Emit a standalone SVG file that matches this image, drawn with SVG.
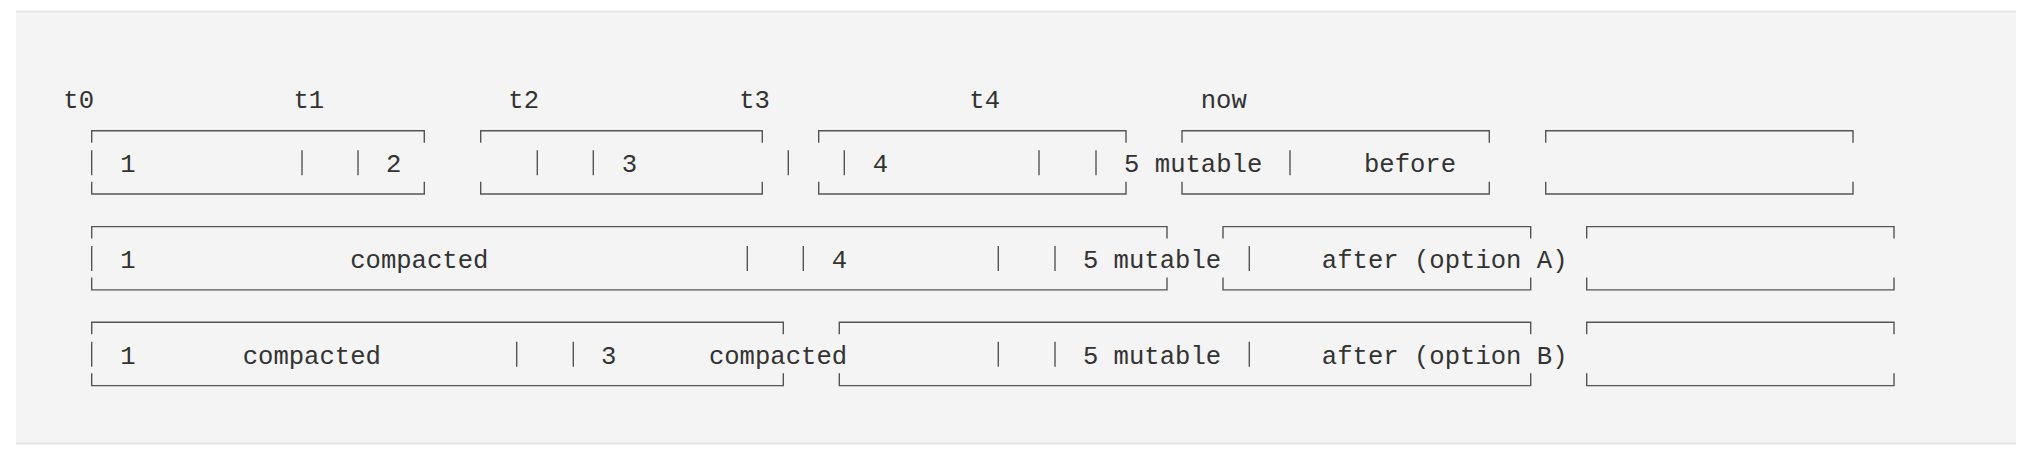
<svg xmlns="http://www.w3.org/2000/svg" width="2034" height="464" viewBox="0 0 2034 464">
  <style>
    .bg { fill: #f4f4f4; }
    .edge { stroke: #e6e6e6; stroke-width: 2; fill: none; }
    .b { fill: none; stroke: #555555; stroke-width: 1.4; }
    .t { font-family: "Liberation Mono", "DejaVu Sans Mono", monospace; font-size: 25.6px; fill: #333333; text-anchor: middle; }
  </style>
  <rect x="0" y="0" width="2034" height="464" fill="#ffffff"/>
  <rect class="bg" x="16" y="10.5" width="2000" height="434"/>
  <path class="edge" d="M16 11.5 H2016 M16 443.5 H2016"/>

  <g id="time-labels">
    <text class="t" x="78.7" y="108.3">t0</text>
    <text class="t" x="308.8" y="108.3">t1</text>
    <text class="t" x="523.7" y="108.3">t2</text>
    <text class="t" x="754.5" y="108.3">t3</text>
    <text class="t" x="984.7" y="108.3">t4</text>
    <text class="t" x="1223.8" y="108.3">now</text>
  </g>

  <!-- Row 1: before -->
  <g id="row-before">
    <g id="box-1-2"><path class="b" d="M91.7 142.7 V130.7 H424.3 V142.7 M91.7 181.7 V194 H424.3 V181.7"/></g>
    <g id="box-3"><path class="b" d="M480.7 142.7 V130.7 H762.3 V142.7 M480.7 181.7 V194 H762.3 V181.7"/></g>
    <g id="box-4"><path class="b" d="M818.7 142.7 V130.7 H1126 V142.7 M818.7 181.7 V194 H1126 V181.7"/></g>
    <g id="box-before"><path class="b" d="M1182 142.7 V130.7 H1489.3 V142.7 M1182 181.7 V194 H1489.3 V181.7"/></g>
    <g id="box-empty-1"><path class="b" d="M1545.7 142.7 V130.7 H1853 V142.7 M1545.7 181.7 V194 H1853 V181.7"/></g>
    <g id="row-before-labels">
      <text class="t" x="128" y="172.3">1</text>
      <text class="t" x="393.7" y="172.3">2</text>
      <text class="t" x="629.5" y="172.3">3</text>
      <text class="t" x="880.5" y="172.3">4</text>
      <text class="t" x="1193.2" y="172.3">5 mutable</text>
      <text class="t" x="1410" y="172.3">before</text>
    </g>
  </g>

  <!-- Row 2: after (option A) -->
  <g id="row-option-a">
    <g id="box-a-main"><path class="b" d="M91.7 238.6 V226.6 H1167 V238.6 M91.7 277.6 V289.9 H1167 V277.6"/></g>
    <g id="box-a-after"><path class="b" d="M1223 238.6 V226.6 H1530.7 V238.6 M1223 277.6 V289.9 H1530.7 V277.6"/></g>
    <g id="box-a-empty"><path class="b" d="M1586.7 238.6 V226.6 H1894 V238.6 M1586.7 277.6 V289.9 H1894 V277.6"/></g>
    <g id="row-option-a-labels">
      <text class="t" x="128" y="267.9">1</text>
      <text class="t" x="419.3" y="267.9">compacted</text>
      <text class="t" x="839.5" y="267.9">4</text>
      <text class="t" x="1152" y="267.9">5 mutable</text>
      <text class="t" x="1444.7" y="267.9">after (option A)</text>
    </g>
  </g>

  <!-- Row 3: after (option B) -->
  <g id="row-option-b">
    <g id="box-b-first"><path class="b" d="M91.7 334.3 V322.3 H783.3 V334.3 M91.7 373.3 V385.6 H783.3 V373.3"/></g>
    <g id="box-b-second"><path class="b" d="M839.3 334.3 V322.3 H1530.7 V334.3 M839.3 373.3 V385.6 H1530.7 V373.3"/></g>
    <g id="box-b-empty"><path class="b" d="M1586.7 334.3 V322.3 H1894 V334.3 M1586.7 373.3 V385.6 H1894 V373.3"/></g>
    <g id="row-option-b-labels">
      <text class="t" x="128" y="363.5">1</text>
      <text class="t" x="311.8" y="363.5">compacted</text>
      <text class="t" x="608.8" y="363.5">3</text>
      <text class="t" x="778" y="363.5">compacted</text>
      <text class="t" x="1152" y="363.5">5 mutable</text>
      <text class="t" x="1444.7" y="363.5">after (option B)</text>
    </g>
  </g>

  <!-- separator bars (│) -->
  <g id="separators">
    <path class="b" d="M91.7 150.2 V175.2 M302 150.2 V175.2 M358 150.2 V175.2 M537.3 150.2 V175.2 M593.3 150.2 V175.2 M788.3 150.2 V175.2 M844.3 150.2 V175.2 M1039 150.2 V175.2 M1096 150.2 V175.2 M1290 150.2 V175.2"/>
    <path class="b" d="M91.7 246.1 V271.1 M747.3 246.1 V271.1 M803.3 246.1 V271.1 M998.3 246.1 V271.1 M1055 246.1 V271.1 M1249.3 246.1 V271.1"/>
    <path class="b" d="M91.7 341.8 V366.8 M516.7 341.8 V366.8 M573.3 341.8 V366.8 M998.3 341.8 V366.8 M1055 341.8 V366.8 M1249.3 341.8 V366.8"/>
  </g>
</svg>
